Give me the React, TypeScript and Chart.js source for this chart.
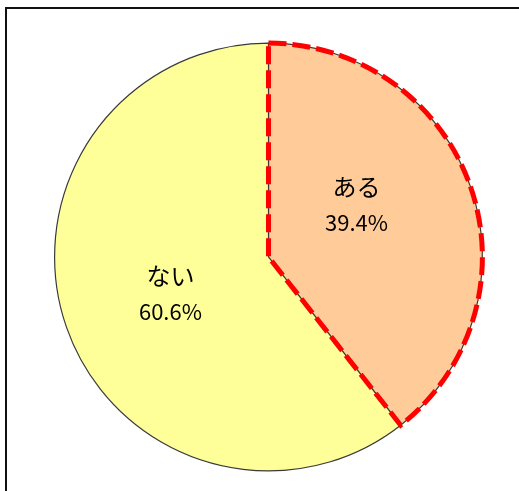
import React, { useEffect, useRef } from "react";
import { Chart, registerables } from "chart.js";

Chart.register(...registerables);

const categories = ["ある", "ない"];
const percentages = [39.4, 60.6];
const sliceColors = ["#FFCC99", "#FFFF99"];
// label nudges (px) relative to the slice mid-point at labelRadius
const labelNudgeX = [-10, 0];
const labelNudgeY = [-18, 3];
const labelRadius = 0.485;

const highlightPlugin = {
  id: "highlightOutline",
  afterDatasetsDraw(chart: any) {
    const meta = chart.getDatasetMeta(0);
    const arc = meta.data[0];
    if (!arc) return;
    const { x, y, startAngle, endAngle, outerRadius } = arc.getProps(
      ["x", "y", "startAngle", "endAngle", "outerRadius"],
      true
    );
    const ctx = chart.ctx;
    ctx.save();
    ctx.beginPath();
    ctx.moveTo(x + Math.cos(startAngle) * outerRadius, y + Math.sin(startAngle) * outerRadius);
    ctx.arc(x, y, outerRadius, startAngle, endAngle);
    ctx.lineTo(x, y);
    ctx.closePath();
    ctx.setLineDash([18, 6]);
    ctx.lineWidth = 5;
    ctx.strokeStyle = "#FF0000";
    ctx.lineJoin = "miter";
    ctx.stroke();
    ctx.restore();
  },
  afterDraw(chart: any) {
    const meta = chart.getDatasetMeta(0);
    const ctx = chart.ctx;
    ctx.save();
    ctx.fillStyle = "#000";
    ctx.textAlign = "center";
    ctx.textBaseline = "middle";
    meta.data.forEach((arc: any, i: number) => {
      const { x, y, startAngle, endAngle, outerRadius } = arc.getProps(
        ["x", "y", "startAngle", "endAngle", "outerRadius"],
        true
      );
      const mid = (startAngle + endAngle) / 2;
      const cx = x + Math.cos(mid) * outerRadius * labelRadius + labelNudgeX[i];
      const cy = y + Math.sin(mid) * outerRadius * labelRadius + labelNudgeY[i];
      ctx.font = '24px "Noto Sans CJK JP", "Noto Sans", sans-serif';
      ctx.fillText(categories[i], cx, cy - 18);
      ctx.font = '22px "Noto Sans CJK JP", "Noto Sans", sans-serif';
      ctx.fillText(percentages[i].toFixed(1) + "%", cx, cy + 18);
    });
    ctx.restore();
  },
};

export default function App() {
  const canvasRef = useRef<HTMLCanvasElement | null>(null);

  useEffect(() => {
    if (!canvasRef.current) return;
    const chart = new Chart(canvasRef.current, {
      type: "pie",
      data: {
        labels: categories,
        datasets: [
          {
            data: percentages,
            backgroundColor: sliceColors,
            borderColor: "#3a3a3a",
            borderWidth: 1.2,
          },
        ],
      },
      options: {
        responsive: false,
        animation: false,
        layout: { padding: { left: 54, right: 36, top: 42, bottom: 19 } },
        plugins: {
          legend: { display: false },
          tooltip: { enabled: false },
        },
      },
      plugins: [highlightPlugin],
    });
    return () => chart.destroy();
  }, []);

  return (
    <div
      style={{
        position: "absolute",
        left: 0,
        top: 0,
        width: 519,
        height: 491,
        overflow: "hidden",
        background: "#fff",
      }}
    >
      <div
        style={{
          position: "absolute",
          left: 5,
          top: 7,
          width: 600,
          height: 600,
          border: "2px solid #111",
          boxSizing: "border-box",
        }}
      />
      <canvas
        ref={canvasRef}
        width={519}
        height={491}
        style={{ position: "absolute", left: 0, top: 0, display: "block" }}
      />
    </div>
  );
}
